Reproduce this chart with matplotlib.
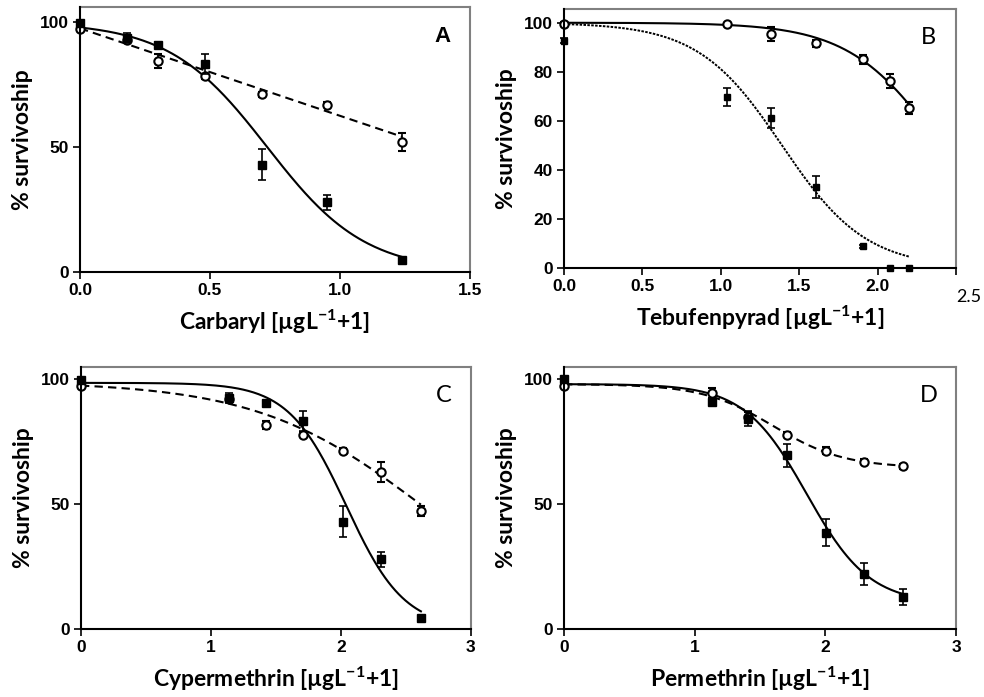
import numpy as np
import matplotlib.pyplot as plt

plt.rcParams['mathtext.default'] = 'regular'

# ---- panel A: Carbaryl ----
a_x = [0.0, 0.18, 0.30, 0.48, 0.70, 0.95, 1.24]
a_sq = [99.6, 93.6, 90.9, 83.3, 42.9, 28.0, 4.7]
a_sq_err = [1.0, 2.0, 1.0, 4.0, 6.2, 3.0, 1.0]
a_ci = [97.3, 93.0, 84.4, 78.3, 71.2, 66.9, 52.0]
a_ci_err = [1.0, 1.0, 2.9, 1.0, 1.0, 1.0, 3.6]

# ---- panel B: Tebufenpyrad ----
b_x = [0.0, 1.04, 1.32, 1.61, 1.905, 2.08, 2.20]
b_sq = [92.6, 69.8, 61.2, 33.0, 8.8, 0.0, 0.0]
b_sq_err = [1.0, 3.6, 4.1, 4.4, 0.5, 0.0, 0.0]
b_ci = [99.6, 99.3, 95.5, 91.6, 85.0, 76.2, 65.3]
b_ci_err = [0.5, 0.5, 2.8, 1.5, 2.0, 3.0, 2.5]

# ---- panel C: Cypermethrin ----
c_x = [0.0, 1.136, 1.42, 1.71, 2.013, 2.308, 2.615]
c_sq = [99.7, 92.6, 90.6, 83.3, 42.8, 27.8, 4.1]
c_sq_err = [1.0, 2.0, 1.0, 4.0, 6.2, 2.9, 1.0]
c_ci = [97.3, 92.0, 81.7, 77.7, 71.3, 62.6, 47.3]
c_ci_err = [1.0, 1.0, 1.5, 1.0, 1.0, 4.0, 2.0]

# ---- panel D: Permethrin ----
d_x = [0.0, 1.13, 1.41, 1.704, 2.005, 2.298, 2.597]
d_sq = [100.0, 91.0, 84.1, 69.4, 38.5, 21.9, 12.8]
d_sq_err = [1.0, 1.5, 3.0, 4.5, 5.5, 4.5, 3.3]
d_ci = [97.3, 94.4, 85.0, 77.7, 71.3, 66.8, 65.0]
d_ci_err = [1.0, 2.0, 2.0, 1.0, 1.5, 1.0, 1.0]

# fitted dose-response parameters: (top, bottom, logEC50, hill)
a_fit_sq = (100, 0, 0.72, 2.3)
a_fit_ci = (97.5, -35.0)          # linear fit: intercept, slope
b_fit_ci = (100, 0, 2.402, 1.49)
b_fit_sq = (100, 0, 1.39, 1.62)
c_fit_sq = (98.5, 0, 2.041, 1.95)
c_fit_ci = (99, 0, 2.62, 0.68)
d_fit_sq = (98, 10, 1.857, 1.81)
d_fit_ci = (98, 64.5, 1.6, 1.6)


def logistic(x, p):
    top, bot, x50, h = p
    return bot + (top - bot) / (1 + 10 ** ((x - x50) * h))


fig = plt.figure(figsize=(9.84, 6.97), dpi=100)

tick_font = dict(family='Liberation Sans', weight='bold', size=12.5)
label_font = dict(family='Lato', weight='bold', size=16.5)


def style_axes(ax, xlim, xticks, xlabels, yticks, ylim, letter, letter_font):
    ax.set_xlim(*xlim)
    ax.set_ylim(*ylim)
    ax.set_xticks(xticks)
    ax.set_xticklabels(xlabels, fontdict=tick_font)
    ax.set_yticks(yticks)
    ax.set_yticklabels([str(t) for t in yticks], fontdict=tick_font)
    ax.tick_params(direction='out', length=5, width=1.2, pad=3)
    for s in ['top', 'right']:
        ax.spines[s].set_color('#808080')
        ax.spines[s].set_linewidth(1.5)
    for s in ['left', 'bottom']:
        ax.spines[s].set_color('black')
        ax.spines[s].set_linewidth(1.5)
    ax.set_ylabel('% survivoship', fontdict=label_font, labelpad=5)
    ax.text(0.93, 0.89, letter, transform=ax.transAxes, ha='center', va='center',
            **letter_font)


def draw_points(ax, x, sq, sq_err, ci, ci_err, sq_size=6):
    ax.errorbar(x, ci, yerr=ci_err, fmt='o', mfc='white', mec='black', mew=1.5,
                ms=6, ecolor='black', elinewidth=1.2, capsize=3, capthick=1.2,
                zorder=4)
    ax.errorbar(x, sq, yerr=sq_err, fmt='s', mfc='black', mec='black', ms=sq_size,
                ecolor='black', elinewidth=1.2, capsize=3, capthick=1.2, zorder=5)


# A
axA = fig.add_axes([0.0813, 0.6098, 0.3963, 0.380])
xs = np.linspace(0, a_x[-1], 200)
axA.plot(xs, logistic(xs, a_fit_sq), color='black', lw=1.5, zorder=3)
axA.plot(xs, a_fit_ci[0] + a_fit_ci[1] * xs, color='black', lw=1.5,
         dashes=(4, 2.5), zorder=3)
draw_points(axA, a_x, a_sq, a_sq_err, a_ci, a_ci_err)
style_axes(axA, (0, 1.5), [0, 0.5, 1.0, 1.5], ['0.0', '0.5', '1.0', '1.5'],
           [0, 50, 100], (0, 106), 'A',
           dict(family='Liberation Sans', weight='bold', size=16))
axA.set_xlabel('Carbaryl [µgL$^{-1}$+1]', fontdict=label_font, labelpad=7)

# B
axB = fig.add_axes([0.5732, 0.6155, 0.3984, 0.372])
xs = np.linspace(0, b_x[-1], 200)
axB.plot(xs, logistic(xs, b_fit_ci), color='black', lw=1.5, zorder=3)
axB.plot(xs, logistic(xs, b_fit_sq), color='black', lw=1.4, dashes=(1.3, 0.7),
         zorder=3)
draw_points(axB, b_x, b_sq, b_sq_err, b_ci, b_ci_err, sq_size=4)
style_axes(axB, (0, 2.5), [0, 0.5, 1.0, 1.5, 2.0, 2.5],
           ['0.0', '0.5', '1.0', '1.5', '2.0', ''],
           [0, 20, 40, 60, 80, 100], (0, 105.7), 'B',
           dict(family='Lato', size=17))
axB.text(2.5, -8.5, '2.5', ha='left', va='top', fontsize=13, family='Lato')
axB.set_xlabel('Tebufenpyrad [µgL$^{-1}$+1]', fontdict=label_font, labelpad=7)

# C
axC = fig.add_axes([0.0823, 0.098, 0.3963, 0.376])
xs = np.linspace(0, c_x[-1], 200)
axC.plot(xs, logistic(xs, c_fit_sq), color='black', lw=1.5, zorder=3)
axC.plot(xs, logistic(xs, c_fit_ci), color='black', lw=1.5, dashes=(4, 2.5), zorder=3)
draw_points(axC, c_x, c_sq, c_sq_err, c_ci, c_ci_err)
style_axes(axC, (0, 3), [0, 1, 2, 3], ['0', '1', '2', '3'],
           [0, 50, 100], (0, 105), 'C', dict(family='Lato', size=17))
axC.set_xlabel('Cypermethrin [µgL$^{-1}$+1]', fontdict=label_font, labelpad=7)

# D
axD = fig.add_axes([0.5732, 0.098, 0.3984, 0.376])
xs = np.linspace(0, d_x[-1], 200)
axD.plot(xs, logistic(xs, d_fit_sq), color='black', lw=1.5, zorder=3)
axD.plot(xs, logistic(xs, d_fit_ci), color='black', lw=1.5, dashes=(4, 2.5), zorder=3)
draw_points(axD, d_x, d_sq, d_sq_err, d_ci, d_ci_err)
style_axes(axD, (0, 3), [0, 1, 2, 3], ['0', '1', '2', '3'],
           [0, 50, 100], (0, 105), 'D', dict(family='Lato', size=17))
axD.set_xlabel('Permethrin [µgL$^{-1}$+1]', fontdict=label_font, labelpad=7)

for ax in [axA, axB, axC, axD]:
    for a in ax.get_children():
        if hasattr(a, 'set_clip_on'):
            a.set_clip_on(False)
    ax.spines['left'].set_zorder(6)

fig.savefig('out.png', dpi=100)
